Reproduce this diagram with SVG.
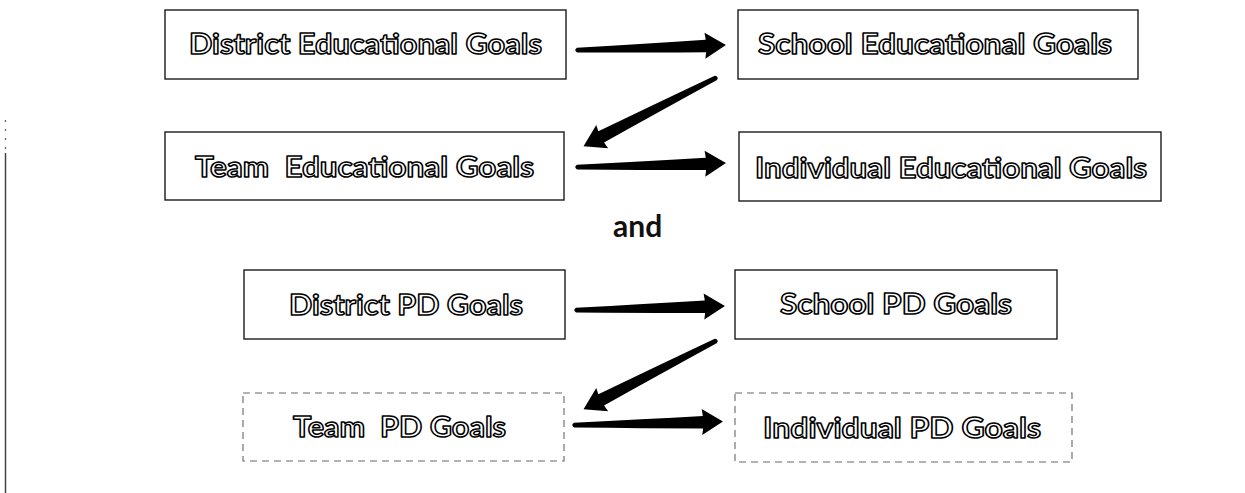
<svg xmlns="http://www.w3.org/2000/svg" width="1245" height="493" viewBox="0 0 1245 493">
<style>
.box{fill:#fff;stroke:#1a1a1a;stroke-width:1.4}
.dbox{fill:#fff;stroke:#666;stroke-width:1.1;stroke-dasharray:7 5}
.lbl{font-family:Lato,"Open Sans",sans-serif;font-weight:bold;font-size:29px;fill:#fff;stroke:#000;stroke-width:1.5;stroke-linejoin:round}
.and{font-family:Lato,"Open Sans",sans-serif;font-weight:bold;font-size:30px;fill:#111}
.arr{fill:#000}
</style>
<defs>
<path id="arrow" d="M0,-2.2 Q-3.5,0 0,2.6 Q70,5 129,6.5 L128,13 L149,0 L128,-13 L129,-6 Q70,-4 0,-2.2 Z"/>
</defs>
<rect width="1245" height="493" fill="#fff"/>
<line x1="5.5" y1="120" x2="5.5" y2="153" stroke="#666" stroke-width="1.3" stroke-dasharray="2 7"/>
<line x1="5.5" y1="153" x2="5.5" y2="493" stroke="#444" stroke-width="1.5"/>
<g id="connectors" class="arr">
<use href="#arrow" transform="translate(577,50) rotate(-1.9)"/>
<use href="#arrow" transform="translate(716,78) rotate(152.75)"/>
<use href="#arrow" transform="translate(577,167) rotate(-1.5)"/>
<use href="#arrow" transform="translate(576,310) rotate(-1.55)"/>
<use href="#arrow" transform="translate(716,341) rotate(152.75)"/>
<use href="#arrow" transform="translate(574,425) rotate(-1.3)"/>
</g>
<g id="district-edu">
<rect class="box" x="165" y="10" width="401" height="69"/>
<text class="lbl" x="189" y="54" textLength="353" lengthAdjust="spacingAndGlyphs">District Educational Goals</text>
</g>
<g id="school-edu">
<rect class="box" x="738" y="10" width="400" height="69"/>
<text class="lbl" x="758" y="54" textLength="354" lengthAdjust="spacingAndGlyphs">School Educational Goals</text>
</g>
<g id="team-edu">
<rect class="box" x="165" y="132" width="399" height="68"/>
<text class="lbl" x="195" y="177" textLength="339" lengthAdjust="spacingAndGlyphs" xml:space="preserve">Team  Educational Goals</text>
</g>
<g id="individual-edu">
<rect class="box" x="739" y="132" width="422" height="69"/>
<text class="lbl" x="755" y="178" textLength="392" lengthAdjust="spacingAndGlyphs">Individual Educational Goals</text>
</g>
<text class="and" x="613" y="237">and</text>
<g id="district-pd">
<rect class="box" x="244" y="270" width="321" height="69"/>
<text class="lbl" x="289" y="315" textLength="234" lengthAdjust="spacingAndGlyphs">District PD Goals</text>
</g>
<g id="school-pd">
<rect class="box" x="735" y="270" width="322" height="69"/>
<text class="lbl" x="780" y="314" textLength="232" lengthAdjust="spacingAndGlyphs">School PD Goals</text>
</g>
<g id="team-pd">
<rect class="dbox" x="243" y="393" width="321" height="68"/>
<text class="lbl" x="293" y="437" textLength="213" lengthAdjust="spacingAndGlyphs" xml:space="preserve">Team  PD Goals</text>
</g>
<g id="individual-pd">
<rect class="dbox" x="735" y="393" width="337" height="69"/>
<text class="lbl" x="763" y="438" textLength="278" lengthAdjust="spacingAndGlyphs">Individual PD Goals</text>
</g>
</svg>
